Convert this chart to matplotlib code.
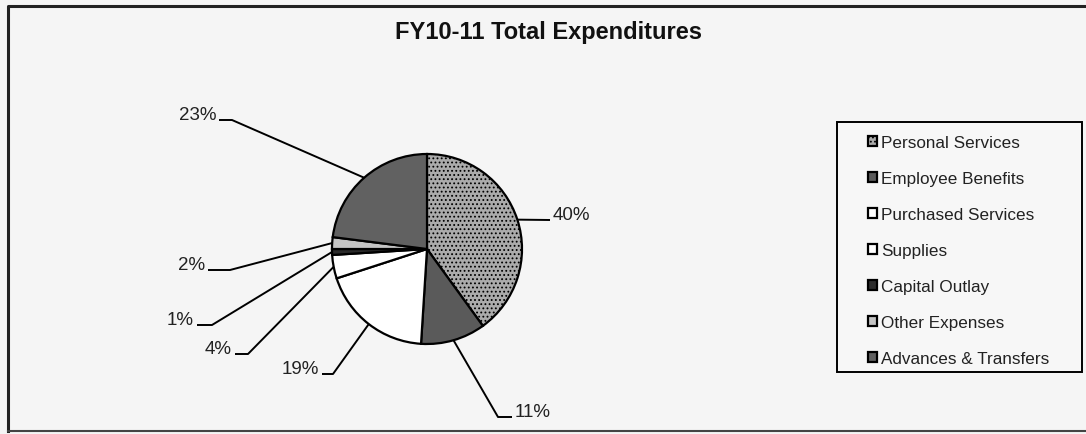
import matplotlib
matplotlib.use("Agg")
import matplotlib.pyplot as plt
import numpy as np
from matplotlib.patches import Rectangle

plt.rcParams['font.family'] = ['Liberation Sans', 'DejaVu Sans']
plt.rcParams['hatch.color'] = '#808080'
plt.rcParams['hatch.linewidth'] = 0.8

# ---- data ----
title = "FY10-11 Total Expenditures"
categories = ["Personal Services", "Employee Benefits", "Purchased Services",
              "Supplies", "Capital Outlay", "Other Expenses", "Advances & Transfers"]
values = [40, 11, 19, 4, 1, 2, 23]
pct_labels = ["40%", "11%", "19%", "4%", "1%", "2%", "23%"]

# ---- style / layout (pixel coords, y from top) ----
colors = ["#ababab", "#5a5a5a", "#ffffff", "#ffffff", "#2c2c2c", "#c4c4c4", "#616161"]
hatches = ["....", None, None, None, None, None, None]
W, H = 1086, 435
center_px = (427, 250)
radius = 95
elbows = [(550, 221), (498, 418), (333, 375), (248, 355), (212, 326), (230, 271), (232, 121)]
ends = [(550, 221), (512, 418), (322, 375), (235, 355), (197, 326), (208, 271), (219, 121)]
sides = ["left", "left", "right", "right", "right", "right", "right"]

fig = plt.figure(figsize=(W / 100, H / 100), dpi=100)
fig.patch.set_facecolor("#f5f5f5")
ax = fig.add_axes([0, 0, 1, 1])
ax.set_facecolor("none")

def Y(y):
    return H - y

cx, cy = center_px[0], Y(center_px[1])
wedges, _ = ax.pie(values, startangle=90, counterclock=False, colors=colors,
                   center=(cx, cy), radius=radius,
                   wedgeprops=dict(edgecolor="black", linewidth=1.6))
for w, h in zip(wedges, hatches):
    if h:
        w.set_hatch(h)
ax.set_xlim(0, W)
ax.set_ylim(0, H)
ax.set_aspect("equal")
ax.axis("off")

# leader lines and percent labels
total = sum(values)
start = 90.0
for i, v in enumerate(values):
    ang = start - 360.0 * v / total / 2
    start -= 360.0 * v / total
    ex = cx + radius * np.cos(np.radians(ang))
    ey = cy + radius * np.sin(np.radians(ang))
    elx, ely = elbows[i]
    enx, eny = ends[i]
    ax.plot([ex, elx, enx], [ey, Y(ely), Y(eny)], color="black", lw=1.4,
            solid_capstyle="butt")
    if sides[i] == "right":
        ax.text(enx - 3, Y(eny) + 1, pct_labels[i], ha="right", va="baseline",
                fontsize=13.5, color="#222222")
    else:
        ax.text(enx + 3, Y(eny) + 1, pct_labels[i], ha="left", va="baseline",
                fontsize=13.5, color="#222222")

# title
ax.text(548, Y(32), title, ha="center", va="center", fontsize=17,
        fontweight="bold", color="#111111")

# outer frame
ax.plot([8, 8, W + 5], [Y(432), Y(7), Y(7)], color="#222222", lw=2.2)
ax.plot([8, W + 5], [Y(432), Y(432)], color="#444444", lw=1.5)

# legend frame
ax.add_patch(Rectangle((837, Y(373)), 1082 - 837, 373 - 123, facecolor="#f7f7f7",
                       edgecolor="black", lw=1.4, zorder=1))
leg = ax.legend(wedges, categories, loc="upper left",
                bbox_to_anchor=(868 / W, 1 - 136 / H), frameon=False,
                fontsize=12.3, handlelength=0.55, handleheight=0.55,
                handletextpad=0.2, labelspacing=1.23, borderpad=0,
                borderaxespad=0)
leg.set_zorder(3)
for t in leg.get_texts():
    t.set_color("#222222")

fig.savefig("out.png", dpi=100, facecolor=fig.get_facecolor())
